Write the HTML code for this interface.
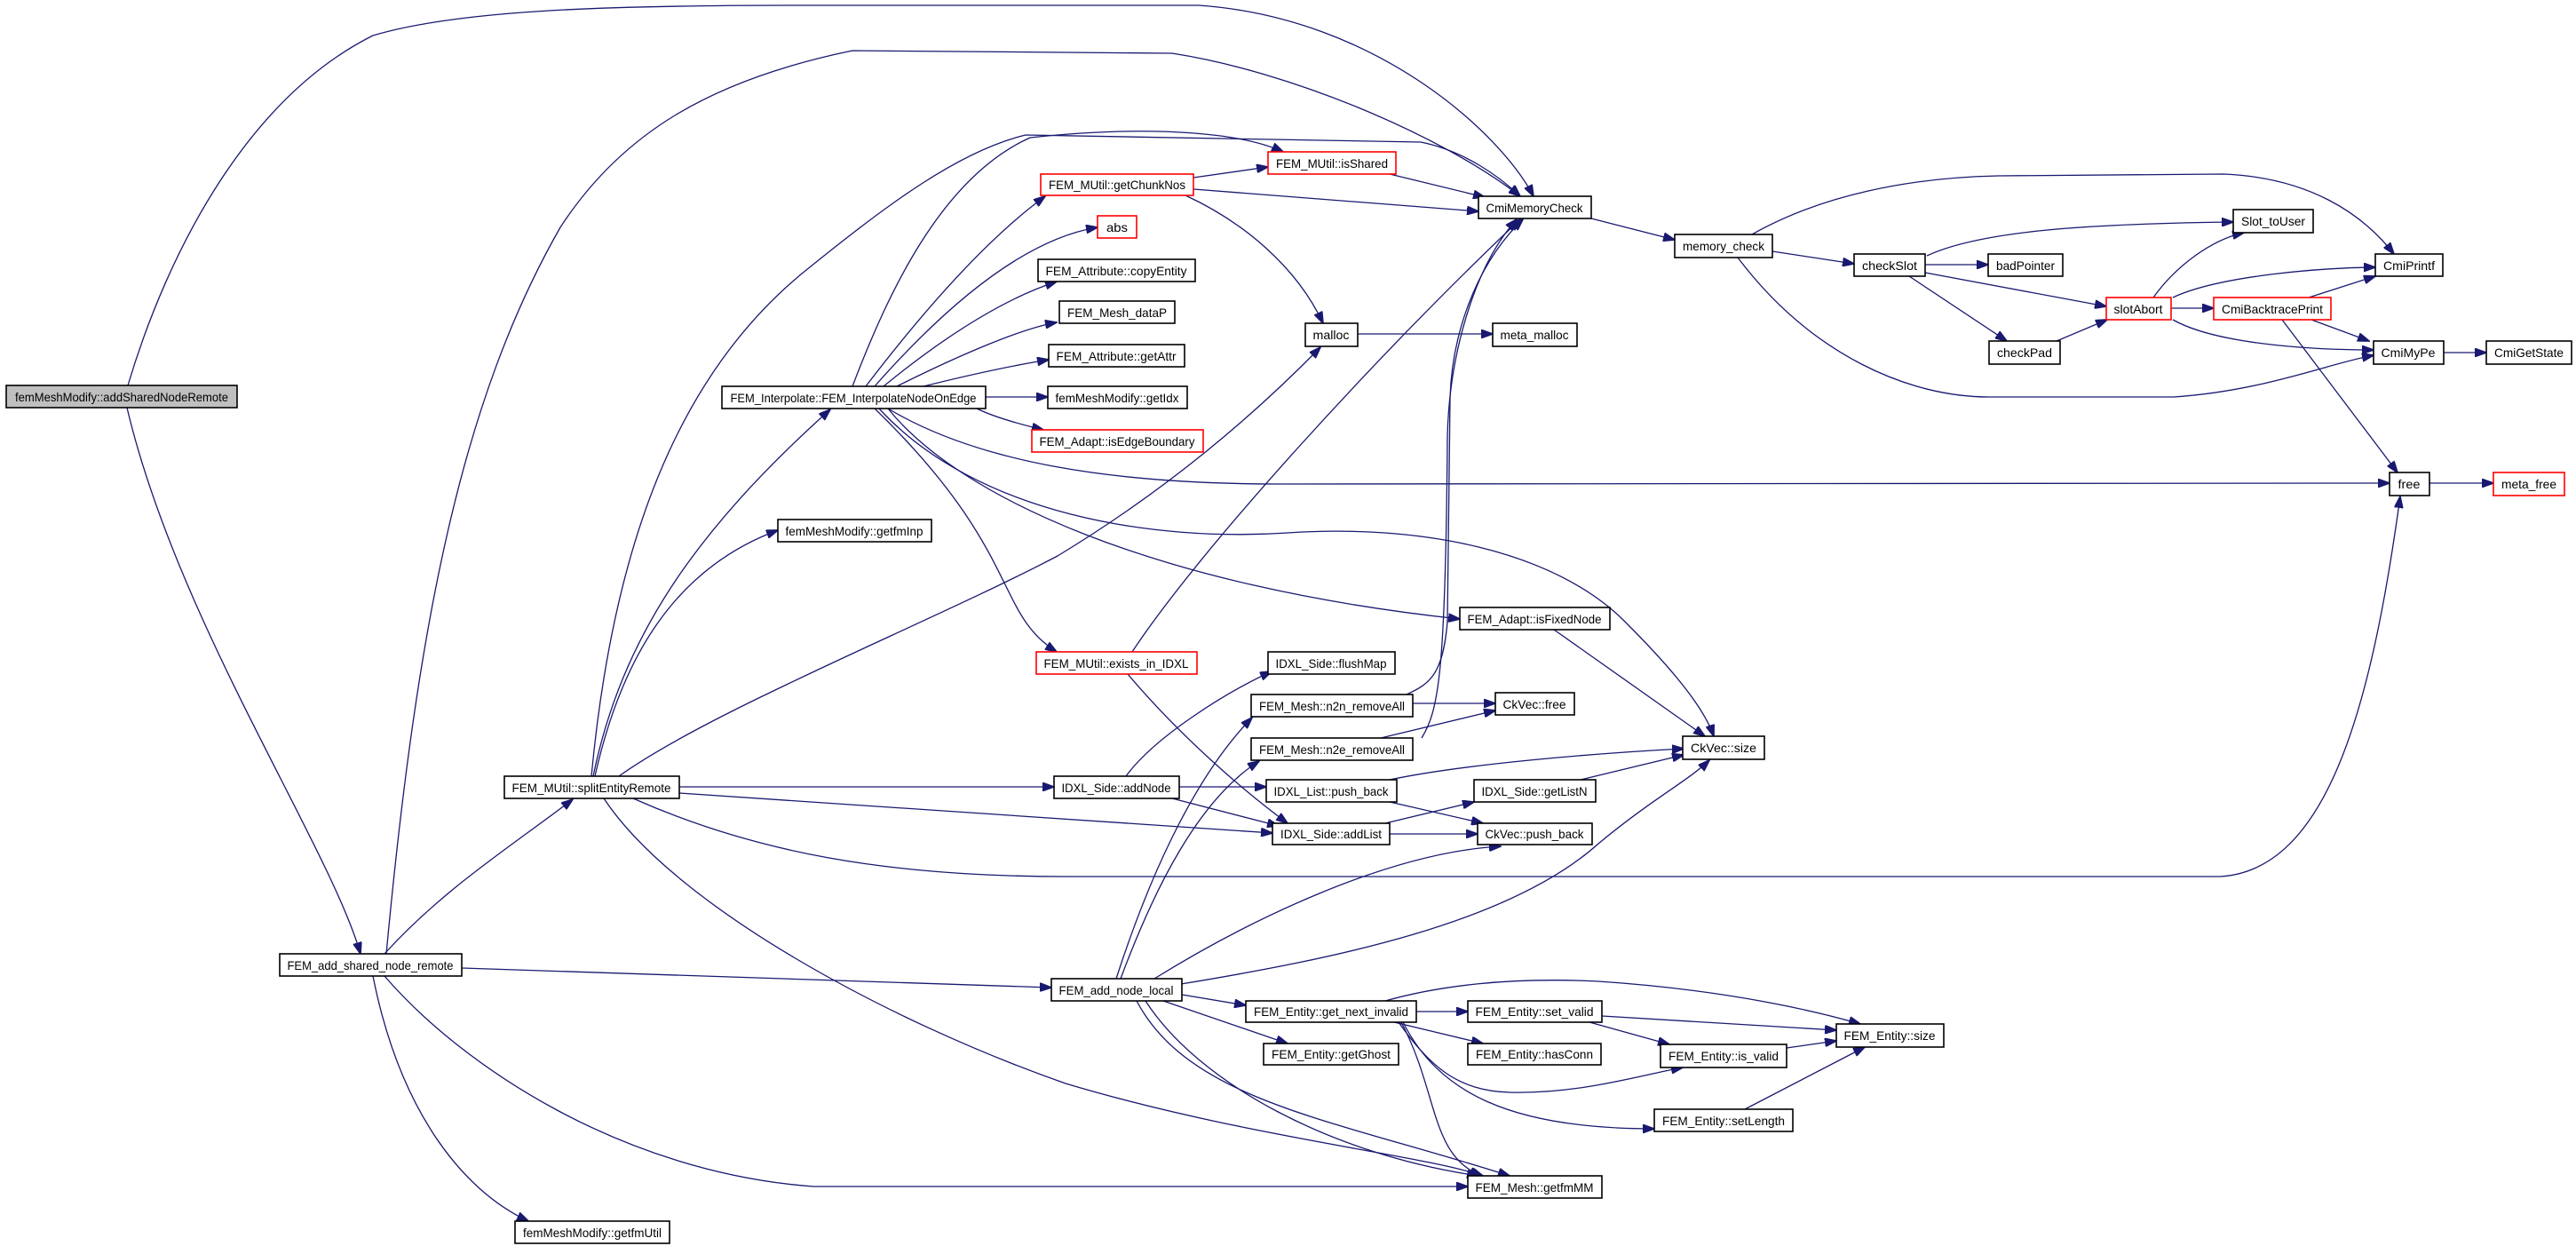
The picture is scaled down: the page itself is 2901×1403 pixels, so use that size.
<!DOCTYPE html>
<html><head><meta charset="utf-8"><style>
html,body{margin:0;padding:0;background:#fff;}
svg{display:block;}
text{font-family:"Liberation Sans",sans-serif;font-size:14px;fill:#000;}
.n{fill:#fff;stroke:#000;stroke-width:1.6;}
.r{fill:#fff;stroke:#ff0000;stroke-width:1.6;}
.g{fill:#bfbfbf;stroke:#000;stroke-width:1.6;}
.e{fill:none;stroke:#191970;stroke-width:1.3;}
</style></head><body>
<svg width="2901" height="1403" viewBox="0 0 2901 1403" xmlns="http://www.w3.org/2000/svg">
<defs><marker id="a" markerUnits="userSpaceOnUse" markerWidth="14" markerHeight="10" refX="13" refY="5" orient="auto"><path d="M0,0 L14,5 L0,10 z" fill="#191970" stroke="#191970"/></marker></defs>
<g class="e" marker-end="url(#a)">
<path d="M144,434 C190,280 280,110 420,40 C520,10 700,6 900,6 L1350,6 C1550,20 1690,150 1727,221"/>
<path d="M143,459 C200,700 370,950 406,1074"/>
<path d="M435,1074 C470,700 520,450 631,256 C700,150 800,90 960,57 L1320,60 C1450,80 1620,150 1712,221"/>
<path d="M433,1074 C500,1000 580,950 645,900"/>
<path d="M520,1090 L1184,1112"/>
<path d="M433,1099 C520,1200 700,1320 916,1336 L1653,1336"/>
<path d="M420,1099 C450,1250 520,1340 595,1375"/>
<path d="M668,874 C700,720 780,600 935,461"/>
<path d="M670,874 C700,740 760,640 876,597"/>
<path d="M666,874 C690,620 760,420 913,300 C1000,230 1080,170 1155,152 L1600,160 C1650,170 1690,200 1712,221"/>
<path d="M697,874 C800,800 1050,700 1191,626 C1300,560 1400,480 1487,391"/>
<path d="M713,899 C850,960 1000,987 1200,987 L2500,987 C2620,980 2670,800 2703,559"/>
<path d="M765,886 L1187,886"/>
<path d="M765,893 L1433,938"/>
<path d="M680,899 C760,1020 1000,1150 1200,1220 C1400,1280 1600,1300 1670,1324"/>
<path d="M960,435 C1000,330 1060,200 1160,155 C1300,140 1400,150 1445,171"/>
<path d="M975,435 C1040,350 1110,270 1177,221"/>
<path d="M985,435 C1060,350 1150,270 1236,256"/>
<path d="M995,435 C1050,390 1120,340 1190,317"/>
<path d="M1010,435 C1080,400 1150,370 1190,363"/>
<path d="M1040,435 C1100,420 1150,410 1181,405"/>
<path d="M1110,447 L1180,447"/>
<path d="M1100,460 C1120,470 1150,478 1175,484"/>
<path d="M1000,460 C1100,520 1250,545 1440,545 L2691,544"/>
<path d="M1000,460 C1080,560 1300,660 1644,697"/>
<path d="M990,460 C1100,580 1300,610 1450,600 C1600,590 1750,620 1830,700 C1890,760 1920,800 1930,829"/>
<path d="M985,460 C1150,620 1120,690 1190,734"/>
<path d="M1344,200 L1428,188"/>
<path d="M1344,213 L1665,238"/>
<path d="M1335,220 C1400,250 1460,300 1490,364"/>
<path d="M1565,196 L1672,222"/>
<path d="M1529,376 L1681,376"/>
<path d="M1792,246 L1886,270"/>
<path d="M1996,283 L2088,297"/>
<path d="M1973,264 C2050,220 2150,200 2250,198 L2504,196 C2600,200 2660,240 2696,286"/>
<path d="M1957,290 C2040,400 2150,447 2240,447 L2448,447 C2550,440 2620,410 2673,400"/>
<path d="M2168,298 L2239,298"/>
<path d="M2170,288 C2230,260 2350,252 2515,250"/>
<path d="M2168,307 L2372,345"/>
<path d="M2150,311 L2260,384"/>
<path d="M2316,384 L2373,360"/>
<path d="M2425,335 C2450,300 2490,270 2527,262"/>
<path d="M2445,347 L2493,347"/>
<path d="M2447,335 C2500,310 2620,301 2675,301"/>
<path d="M2447,360 C2500,390 2620,394 2673,394"/>
<path d="M2600,335 L2675,311"/>
<path d="M2603,360 L2668,384"/>
<path d="M2570,360 L2700,532"/>
<path d="M2752,397 L2800,397"/>
<path d="M2736,544 L2808,544"/>
<path d="M1275,734 C1350,620 1550,400 1712,247"/>
<path d="M1270,759 C1330,830 1400,890 1450,927"/>
<path d="M1584,782 C1610,770 1625,760 1630,700 L1633,448 C1635,380 1660,300 1715,247"/>
<path d="M1601,831 C1620,800 1628,760 1630,492 C1632,400 1660,300 1708,247"/>
<path d="M1591,792 L1684,792"/>
<path d="M1555,831 L1684,800"/>
<path d="M1268,874 C1300,830 1380,780 1432,756"/>
<path d="M1328,886 L1426,886"/>
<path d="M1320,899 L1440,930"/>
<path d="M1257,1102 C1290,1000 1340,880 1410,808"/>
<path d="M1262,1102 C1300,1000 1350,900 1418,857"/>
<path d="M1300,1102 C1400,1040 1560,960 1690,953"/>
<path d="M1330,1108 C1500,1080 1700,1040 1800,950 C1860,900 1900,880 1925,856"/>
<path d="M1331,1120 L1403,1132"/>
<path d="M1310,1127 L1450,1175"/>
<path d="M1290,1127 C1350,1220 1500,1300 1665,1324"/>
<path d="M1280,1127 C1340,1240 1500,1260 1700,1324"/>
<path d="M1565,878 C1650,860 1800,848 1896,843"/>
<path d="M1565,903 L1670,927"/>
<path d="M1560,927 L1660,903"/>
<path d="M1565,939 L1664,939"/>
<path d="M1780,878 L1896,850"/>
<path d="M1750,709 L1920,829"/>
<path d="M1595,1139 L1653,1139"/>
<path d="M1570,1151 L1670,1175"/>
<path d="M1575,1151 C1610,1200 1640,1228 1700,1230 C1780,1232 1850,1210 1895,1202"/>
<path d="M1580,1151 C1620,1230 1700,1271 1863,1271"/>
<path d="M1578,1151 C1620,1230 1610,1300 1668,1324"/>
<path d="M1560,1127 C1620,1110 1700,1100 1800,1105 C1950,1115 2050,1140 2095,1153"/>
<path d="M1804,1144 L2068,1160"/>
<path d="M1790,1151 L1880,1176"/>
<path d="M2012,1180 L2068,1172"/>
<path d="M1965,1249 L2100,1179"/>
</g>
<g>
<rect class="g" x="7" y="434" width="260" height="25"/><text x="137" y="452" text-anchor="middle" textLength="240" lengthAdjust="spacingAndGlyphs">femMeshModify::addSharedNodeRemote</text>
<rect class="n" x="813" y="435" width="297" height="25"/><text x="961" y="453" text-anchor="middle" textLength="277" lengthAdjust="spacingAndGlyphs">FEM_Interpolate::FEM_InterpolateNodeOnEdge</text>
<rect class="n" x="876" y="585" width="173" height="25"/><text x="962" y="603" text-anchor="middle" textLength="155" lengthAdjust="spacingAndGlyphs">femMeshModify::getfmInp</text>
<rect class="n" x="568" y="874" width="197" height="25"/><text x="666" y="892" text-anchor="middle" textLength="179" lengthAdjust="spacingAndGlyphs">FEM_MUtil::splitEntityRemote</text>
<rect class="n" x="315" y="1074" width="205" height="25"/><text x="417" y="1092" text-anchor="middle" textLength="187" lengthAdjust="spacingAndGlyphs">FEM_add_shared_node_remote</text>
<rect class="n" x="580" y="1375" width="174" height="25"/><text x="667" y="1393" text-anchor="middle" textLength="156" lengthAdjust="spacingAndGlyphs">femMeshModify::getfmUtil</text>
<rect class="r" x="1172" y="196" width="172" height="24"/><text x="1258" y="213" text-anchor="middle" textLength="154" lengthAdjust="spacingAndGlyphs">FEM_MUtil::getChunkNos</text>
<rect class="r" x="1428" y="171" width="144" height="25"/><text x="1500" y="189" text-anchor="middle" textLength="126" lengthAdjust="spacingAndGlyphs">FEM_MUtil::isShared</text>
<rect class="r" x="1236" y="243" width="44" height="25"/><text x="1258" y="261" text-anchor="middle" textLength="24" lengthAdjust="spacingAndGlyphs">abs</text>
<rect class="n" x="1169" y="292" width="177" height="25"/><text x="1257" y="310" text-anchor="middle" textLength="159" lengthAdjust="spacingAndGlyphs">FEM_Attribute::copyEntity</text>
<rect class="n" x="1193" y="339" width="130" height="25"/><text x="1258" y="357" text-anchor="middle" textLength="112" lengthAdjust="spacingAndGlyphs">FEM_Mesh_dataP</text>
<rect class="n" x="1181" y="388" width="153" height="25"/><text x="1257" y="406" text-anchor="middle" textLength="135" lengthAdjust="spacingAndGlyphs">FEM_Attribute::getAttr</text>
<rect class="n" x="1180" y="435" width="157" height="25"/><text x="1258" y="453" text-anchor="middle" textLength="139" lengthAdjust="spacingAndGlyphs">femMeshModify::getIdx</text>
<rect class="r" x="1162" y="484" width="193" height="25"/><text x="1258" y="502" text-anchor="middle" textLength="175" lengthAdjust="spacingAndGlyphs">FEM_Adapt::isEdgeBoundary</text>
<rect class="n" x="1470" y="364" width="59" height="26"/><text x="1499" y="382" text-anchor="middle" textLength="41" lengthAdjust="spacingAndGlyphs">malloc</text>
<rect class="n" x="1681" y="364" width="95" height="26"/><text x="1728" y="382" text-anchor="middle" textLength="77" lengthAdjust="spacingAndGlyphs">meta_malloc</text>
<rect class="n" x="1665" y="221" width="127" height="25"/><text x="1728" y="239" text-anchor="middle" textLength="109" lengthAdjust="spacingAndGlyphs">CmiMemoryCheck</text>
<rect class="n" x="1886" y="264" width="110" height="26"/><text x="1941" y="282" text-anchor="middle" textLength="92" lengthAdjust="spacingAndGlyphs">memory_check</text>
<rect class="n" x="2088" y="286" width="80" height="25"/><text x="2128" y="304" text-anchor="middle" textLength="62" lengthAdjust="spacingAndGlyphs">checkSlot</text>
<rect class="n" x="2239" y="286" width="84" height="25"/><text x="2281" y="304" text-anchor="middle" textLength="66" lengthAdjust="spacingAndGlyphs">badPointer</text>
<rect class="n" x="2515" y="236" width="90" height="26"/><text x="2560" y="254" text-anchor="middle" textLength="72" lengthAdjust="spacingAndGlyphs">Slot_toUser</text>
<rect class="n" x="2675" y="286" width="76" height="25"/><text x="2713" y="304" text-anchor="middle" textLength="58" lengthAdjust="spacingAndGlyphs">CmiPrintf</text>
<rect class="r" x="2372" y="335" width="73" height="25"/><text x="2408" y="353" text-anchor="middle" textLength="55" lengthAdjust="spacingAndGlyphs">slotAbort</text>
<rect class="r" x="2493" y="335" width="132" height="25"/><text x="2559" y="353" text-anchor="middle" textLength="114" lengthAdjust="spacingAndGlyphs">CmiBacktracePrint</text>
<rect class="n" x="2240" y="384" width="80" height="26"/><text x="2280" y="402" text-anchor="middle" textLength="62" lengthAdjust="spacingAndGlyphs">checkPad</text>
<rect class="n" x="2673" y="384" width="79" height="26"/><text x="2712" y="402" text-anchor="middle" textLength="61" lengthAdjust="spacingAndGlyphs">CmiMyPe</text>
<rect class="n" x="2800" y="384" width="96" height="26"/><text x="2848" y="402" text-anchor="middle" textLength="78" lengthAdjust="spacingAndGlyphs">CmiGetState</text>
<rect class="n" x="2691" y="532" width="45" height="26"/><text x="2713" y="550" text-anchor="middle" textLength="25" lengthAdjust="spacingAndGlyphs">free</text>
<rect class="r" x="2808" y="532" width="80" height="26"/><text x="2848" y="550" text-anchor="middle" textLength="62" lengthAdjust="spacingAndGlyphs">meta_free</text>
<rect class="n" x="1644" y="684" width="169" height="25"/><text x="1728" y="702" text-anchor="middle" textLength="151" lengthAdjust="spacingAndGlyphs">FEM_Adapt::isFixedNode</text>
<rect class="r" x="1167" y="734" width="181" height="25"/><text x="1257" y="752" text-anchor="middle" textLength="163" lengthAdjust="spacingAndGlyphs">FEM_MUtil::exists_in_IDXL</text>
<rect class="n" x="1428" y="734" width="143" height="25"/><text x="1499" y="752" text-anchor="middle" textLength="125" lengthAdjust="spacingAndGlyphs">IDXL_Side::flushMap</text>
<rect class="n" x="1409" y="782" width="182" height="25"/><text x="1500" y="800" text-anchor="middle" textLength="164" lengthAdjust="spacingAndGlyphs">FEM_Mesh::n2n_removeAll</text>
<rect class="n" x="1684" y="780" width="89" height="25"/><text x="1728" y="798" text-anchor="middle" textLength="71" lengthAdjust="spacingAndGlyphs">CkVec::free</text>
<rect class="n" x="1409" y="831" width="182" height="25"/><text x="1500" y="849" text-anchor="middle" textLength="164" lengthAdjust="spacingAndGlyphs">FEM_Mesh::n2e_removeAll</text>
<rect class="n" x="1895" y="829" width="92" height="26"/><text x="1941" y="847" text-anchor="middle" textLength="74" lengthAdjust="spacingAndGlyphs">CkVec::size</text>
<rect class="n" x="1187" y="874" width="141" height="25"/><text x="1257" y="892" text-anchor="middle" textLength="123" lengthAdjust="spacingAndGlyphs">IDXL_Side::addNode</text>
<rect class="n" x="1426" y="878" width="147" height="25"/><text x="1499" y="896" text-anchor="middle" textLength="129" lengthAdjust="spacingAndGlyphs">IDXL_List::push_back</text>
<rect class="n" x="1660" y="878" width="137" height="25"/><text x="1728" y="896" text-anchor="middle" textLength="119" lengthAdjust="spacingAndGlyphs">IDXL_Side::getListN</text>
<rect class="n" x="1433" y="927" width="132" height="24"/><text x="1499" y="944" text-anchor="middle" textLength="114" lengthAdjust="spacingAndGlyphs">IDXL_Side::addList</text>
<rect class="n" x="1664" y="927" width="129" height="24"/><text x="1728" y="944" text-anchor="middle" textLength="111" lengthAdjust="spacingAndGlyphs">CkVec::push_back</text>
<rect class="n" x="1184" y="1102" width="147" height="25"/><text x="1257" y="1120" text-anchor="middle" textLength="129" lengthAdjust="spacingAndGlyphs">FEM_add_node_local</text>
<rect class="n" x="1403" y="1127" width="192" height="24"/><text x="1499" y="1144" text-anchor="middle" textLength="174" lengthAdjust="spacingAndGlyphs">FEM_Entity::get_next_invalid</text>
<rect class="n" x="1653" y="1127" width="151" height="24"/><text x="1728" y="1144" text-anchor="middle" textLength="133" lengthAdjust="spacingAndGlyphs">FEM_Entity::set_valid</text>
<rect class="n" x="2068" y="1153" width="121" height="26"/><text x="2128" y="1171" text-anchor="middle" textLength="103" lengthAdjust="spacingAndGlyphs">FEM_Entity::size</text>
<rect class="n" x="1423" y="1175" width="152" height="24"/><text x="1499" y="1192" text-anchor="middle" textLength="134" lengthAdjust="spacingAndGlyphs">FEM_Entity::getGhost</text>
<rect class="n" x="1653" y="1175" width="150" height="24"/><text x="1728" y="1192" text-anchor="middle" textLength="132" lengthAdjust="spacingAndGlyphs">FEM_Entity::hasConn</text>
<rect class="n" x="1870" y="1176" width="142" height="26"/><text x="1941" y="1194" text-anchor="middle" textLength="124" lengthAdjust="spacingAndGlyphs">FEM_Entity::is_valid</text>
<rect class="n" x="1863" y="1249" width="156" height="25"/><text x="1941" y="1267" text-anchor="middle" textLength="138" lengthAdjust="spacingAndGlyphs">FEM_Entity::setLength</text>
<rect class="n" x="1653" y="1324" width="151" height="25"/><text x="1728" y="1342" text-anchor="middle" textLength="133" lengthAdjust="spacingAndGlyphs">FEM_Mesh::getfmMM</text>
</g>
</svg>
</body></html>
